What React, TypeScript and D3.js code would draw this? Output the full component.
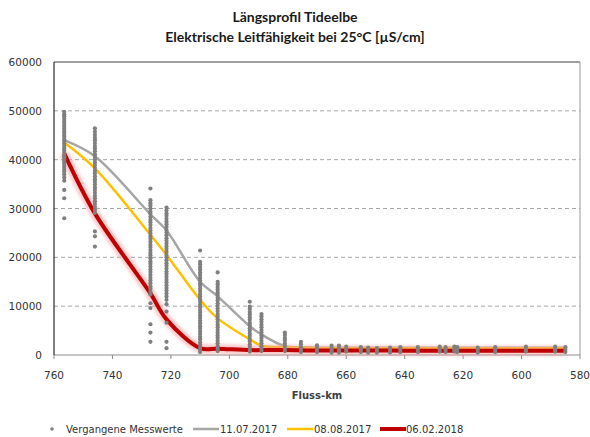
import React from 'react';
import * as d3 from 'd3';

// Messstationen (Fluss-km) und vergangene Messwerte je Station
const stationKm = [756.5, 746, 727, 721.5, 710, 704, 693, 689, 681, 675.5, 670, 665, 662.5, 660, 655, 652.5, 649.5, 645, 641.5, 635.5, 628, 626, 623, 622, 615, 609, 598.5, 588.5, 585];
const pastValues: number[][] = [
  [49800, 49300, 48900, 48400, 47900, 47500, 47000, 46500, 46100, 45600, 45100, 44700, 44200, 43700, 43300, 42800, 42300, 41900, 41400, 40900, 40500, 40000, 39500, 39100, 38600, 38100, 37600, 37000, 36400, 35700, 33800, 32100, 28000],
  [46400, 45700, 45100, 44500, 44000, 43400, 42800, 42300, 41700, 41100, 40600, 40000, 39400, 38900, 38300, 37700, 37200, 36600, 36000, 35500, 34900, 34300, 33800, 33200, 32600, 32100, 31500, 30900, 30300, 29700, 29100, 25300, 24300, 22200],
  [34100, 31700, 31100, 30600, 30000, 29400, 28900, 28300, 27700, 27200, 26600, 26000, 25500, 24900, 24300, 23800, 23200, 22600, 22100, 21500, 20900, 20400, 19800, 19200, 18700, 18100, 17500, 17000, 16400, 15800, 15300, 14700, 14100, 13600, 13000, 12400, 10600, 9600, 6300, 4600, 2700],
  [30200, 29600, 29000, 28500, 27900, 27300, 26800, 26200, 25600, 25100, 24500, 23900, 23400, 22800, 22200, 21700, 21100, 20500, 20000, 19400, 18800, 18300, 17700, 17100, 16600, 16000, 15400, 14900, 14300, 13700, 13200, 12600, 12000, 11300, 10400, 8900, 6600, 2700, 1400],
  [21400, 19100, 18600, 18000, 17500, 16900, 16400, 15800, 15300, 14700, 14200, 13600, 13100, 12500, 12000, 11400, 10900, 10300, 9800, 9200, 8700, 8100, 7600, 7000, 6500, 5900, 5400, 4800, 4300, 3700, 3200, 2600, 2100, 1500, 1000, 600],
  [16900, 15000, 14500, 13900, 13400, 12800, 12300, 11700, 11200, 10600, 10100, 9500, 9000, 8400, 7900, 7300, 6800, 6200, 5700, 5100, 4600, 4000, 3500, 2900, 2400, 1800, 1300, 800],
  [10900, 9900, 9400, 8800, 8300, 7700, 7200, 6600, 6100, 5500, 5000, 4400, 3900, 3300, 2800, 2200, 1700, 1100, 700],
  [8400, 7900, 7300, 6800, 6200, 5700, 5100, 4600, 4000, 3500, 2900, 2400, 1800, 1300, 800],
  [4600, 4100, 3500, 3000, 2400, 1900, 1300, 800],
  [2700, 2200, 1600, 1100, 600],
  [2000, 1500, 1000, 600],
  [1900, 1400, 900, 500],
  [1900, 1400, 900, 500],
  [1700, 1200, 700],
  [1600, 1100, 600],
  [1500, 1000, 500],
  [1400, 900, 500],
  [1500, 1000, 500],
  [1600, 1100, 600],
  [1600, 1100, 600],
  [1700, 1200, 700],
  [1600, 1100, 600],
  [1700, 1200, 700],
  [1600, 1100, 600],
  [1500, 1000, 500],
  [1600, 1100, 600],
  [1700, 1200, 700],
  [1700, 1200, 700],
  [1600, 1100, 600],
];

// Profile der einzelnen Messfahrten
const lineKm = [756.5, 746, 727, 721.5, 710, 704, 693, 689, 681, 675.5, 670, 660, 645, 635.5, 623, 609, 598.5, 585];
const values20170711 = [44000, 40700, 28800, 25500, 15000, 12000, 5900, 4200, 1800, 1600, 1500, 1500, 1500, 1500, 1500, 1500, 1500, 1500];
const values20170808 = [43500, 38200, 24600, 20500, 11300, 7500, 3200, 1900, 1600, 1500, 1400, 1400, 1400, 1400, 1400, 1400, 1400, 1400];
const values20180206 = [41300, 29000, 12600, 7300, 1400, 1300, 1000, 1000, 1000, 950, 900, 900, 900, 850, 850, 850, 850, 850];

const yTicks = [0, 10000, 20000, 30000, 40000, 50000, 60000];
const xTicks = [760, 740, 720, 700, 680, 660, 640, 620, 600, 580];

const titleLines = ['Längsprofil Tideelbe', 'Elektrische Leitfähigkeit bei 25°C [µS/cm]'];

const W = 590, H = 437;
const left = 54, right = 580, top = 62, bottom = 355;

export default function App() {
  const x = d3.scaleLinear().domain([760, 580]).range([left, right]);
  const y = d3.scaleLinear().domain([0, 60000]).range([bottom, top]);

  const line = d3.line<[number, number]>()
    .x(d => x(d[0]))
    .y(d => y(d[1]))
    .curve(d3.curveCatmullRom.alpha(0.5));

  const pts = (vals: number[]) => lineKm.map((k, i) => [k, vals[i]] as [number, number]);

  const dots: { k: number; v: number }[] = [];
  stationKm.forEach((k, i) => pastValues[i].forEach(v => dots.push({ k, v })));

  const tickFont = 'DejaVu Sans, sans-serif';

  return (
    <svg width={W} height={H} style={{ position: 'absolute', left: 0, top: 0, background: '#fff' }}>
      <defs>
        <filter id="glow" x="-10%" y="-10%" width="120%" height="120%">
          <feGaussianBlur stdDeviation="1.8" />
        </filter>
      </defs>

      {titleLines.map((t, i) => (
        <text key={t} x={295} y={22 + i * 20} textAnchor="middle" fontFamily="Lato, sans-serif"
          fontWeight="bold" fontSize={14} fill="#1a1a1a">{t}</text>
      ))}

      {/* gridlines */}
      {yTicks.filter(t => t > 0 && t < 60000).map(t => (
        <line key={t} x1={left} x2={right} y1={y(t)} y2={y(t)} stroke="#a6a6a6" strokeDasharray="4,3" />
      ))}
      <line x1={left} x2={right} y1={top} y2={top} stroke="#404040" />
      <line x1={right} x2={right} y1={top} y2={bottom} stroke="#9a9a9a" />

      {/* axes */}
      <line x1={left} x2={right} y1={bottom} y2={bottom} stroke="#8c8c8c" />
      {xTicks.map(t => (
        <g key={t}>
          <line x1={x(t)} x2={x(t)} y1={bottom} y2={bottom + 4} stroke="#8c8c8c" />
          <text x={x(t)} y={379} textAnchor="middle" fontFamily={tickFont} fontSize={10.5} fill="#333">{t}</text>
        </g>
      ))}
      <line x1={left} x2={left} y1={top} y2={bottom} stroke="#000" />
      {yTicks.map(t => (
        <text key={t} x={42} y={y(t) + 4} textAnchor="end" fontFamily={tickFont} fontSize={10.5} fill="#333">{t}</text>
      ))}
      <text x={317} y={399} textAnchor="middle" fontFamily={tickFont} fontWeight="bold" fontSize={10} fill="#404040">Fluss-km</text>

      {/* lines */}
      <path d={line(pts(values20170711)) || ''} fill="none" stroke="#a6a6a6" strokeWidth={2.5} />
      <path d={line(pts(values20170808)) || ''} fill="none" stroke="#ffc000" strokeWidth={2.5} />
      <path d={line(pts(values20180206)) || ''} fill="none" stroke="#f4a0a0" strokeOpacity={0.55} strokeWidth={10} filter="url(#glow)" />
      <path d={line(pts(values20180206)) || ''} fill="none" stroke="#c00000" strokeWidth={4} />

      {/* past measurements */}
      {dots.map((d, i) => (
        <circle key={i} cx={x(d.k)} cy={y(d.v)} r={2.1} fill="#7f7f7f" />
      ))}

      {/* legend */}
      <g fontFamily={tickFont} fontSize={10} fill="#333">
        <circle cx={52} cy={429} r={1.8} fill="#808080" />
        <text x={66} y={433}>Vergangene Messwerte</text>
        <line x1={193} x2={219} y1={429} y2={429} stroke="#a6a6a6" strokeWidth={2.5} />
        <text x={220} y={433}>11.07.2017</text>
        <line x1={287} x2={313} y1={429} y2={429} stroke="#ffc000" strokeWidth={2.5} />
        <text x={314} y={433}>08.08.2017</text>
        <line x1={380} x2={406} y1={429} y2={429} stroke="#c00000" strokeWidth={4} />
        <text x={406} y={433}>06.02.2018</text>
      </g>
    </svg>
  );
}
